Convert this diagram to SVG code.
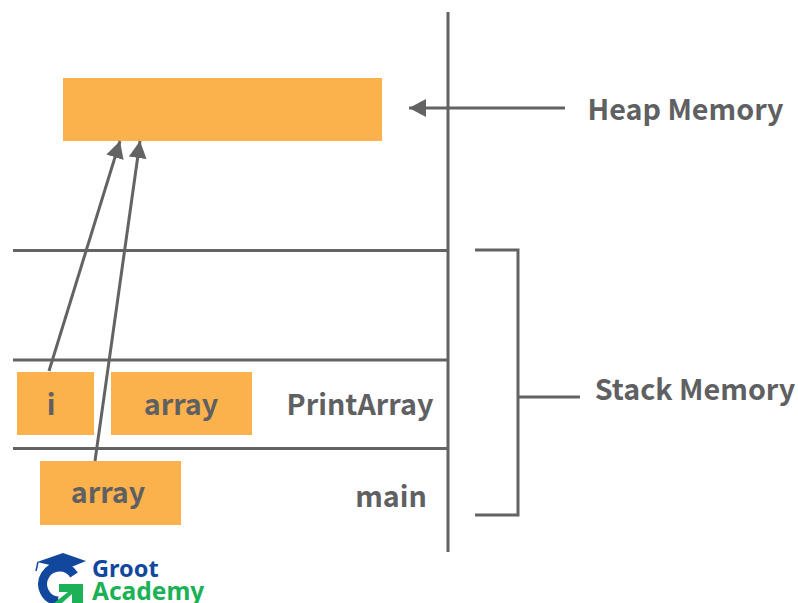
<svg xmlns="http://www.w3.org/2000/svg" width="798" height="603" viewBox="0 0 798 603">
<style>
.box{fill:#fbb24c}
.ln{stroke:#636363;stroke-width:3;fill:none}
.t{font-family:"Noto Sans CJK SC","Noto Sans",sans-serif;font-weight:700;fill:#5f6062;font-size:28.700px;text-anchor:middle}
.logo{font-family:"Noto Sans","Open Sans",sans-serif;font-weight:700;font-size:23.500px}
</style>
<defs>
<marker id="ah" markerUnits="userSpaceOnUse" markerWidth="20" markerHeight="20" refX="17" refY="9" orient="auto"><path d="M0 0L17 9L0 18Z" fill="#636363"/></marker>
</defs>
<rect width="798" height="603" fill="#fff"/>
<g id="connectors">
<path class="ln" d="M448 12V552"/>
<path class="ln" d="M13 250.500H448"/>
<path class="ln" d="M13 360H448"/>
<path class="ln" d="M13 448.500H448"/>
<path class="ln" d="M565 108H409" marker-end="url(#ah)"/>
<path class="ln" d="M475 250H518V515H475"/>
<path class="ln" d="M518 397H580"/>
</g>
<g id="heap"><rect class="box" x="63" y="78" width="319" height="63"/></g>
<g id="node-i"><rect class="box" x="17" y="372" width="77" height="63"/><text class="t" x="51" y="415">i</text></g>
<g id="node-array-print"><rect class="box" x="111" y="372" width="141" height="63"/><text class="t" x="181" y="415">array</text></g>
<g id="node-array-main"><rect class="box" x="40" y="461" width="141" height="64"/><text class="t" x="108" y="503">array</text></g>
<g id="arrows">
<path class="ln" d="M49 371L120 141" marker-end="url(#ah)"/>
<path class="ln" d="M95 461L140 141" marker-end="url(#ah)"/>
</g>
<g id="label-heap"><text class="t" x="685.500" y="120">Heap Memory</text></g>
<g id="label-stack"><text class="t" x="695" y="400">Stack Memory</text></g>
<g id="label-print"><text class="t" x="360" y="415">PrintArray</text></g>
<g id="label-main"><text class="t" x="391" y="507">main</text></g>
<g id="logo">
<path d="M37 562L63 553L86 561L64 570L50 565Z" fill="#12479e"/>
<path d="M38 562L36 571" stroke="#12479e" stroke-width="1.500" fill="none"/>
<path d="M74 575A17 17 0 1 0 58 601" stroke="#12479e" stroke-width="9" fill="none"/>
<path d="M59 584H83V603H72V594L62 603H54L68 592H59Z" fill="#1bb257"/>
<text class="logo" x="92" y="577" fill="#12479e">Groot</text>
<text class="logo" x="92" y="600" fill="#1bb257" font-size="24.500" style="font-size:24.500px">Academy</text>
</g>
</svg>
